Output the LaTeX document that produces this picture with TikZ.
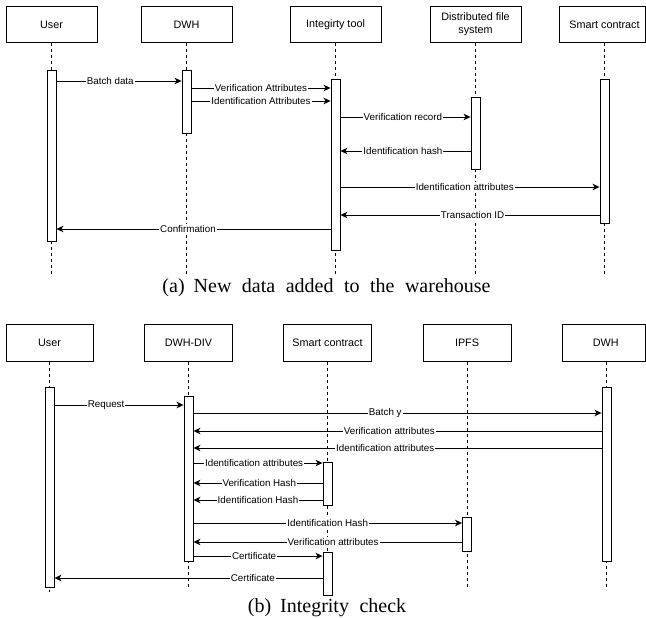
\documentclass[tikz,border=0pt]{standalone}
\usepackage{fontspec}
\setmainfont{Liberation Serif}
\newfontfamily\lsans{Liberation Sans}
\usetikzlibrary{arrows.meta}
\begin{document}
\begin{tikzpicture}[x=1bp,y=-1bp,
  hdr/.style={draw, line width=0.9bp, fill=white, minimum height=36.5bp, inner sep=0pt, align=center, font=\lsans\fontsize{10.8bp}{13bp}\selectfont},
  bar/.style={draw, line width=0.9bp, fill=white, minimum width=9bp, inner sep=0pt},
  life/.style={line width=0.9bp, dash pattern=on 3bp off 3bp},
  msg/.style={line width=0.9bp, -{Stealth[length=7bp,width=6.5bp,inset=2bp]}},
  lbl/.style={fill=white, inner sep=1bp, font=\lsans\fontsize{9.8bp}{11bp}\selectfont},
  captext/.style={anchor=base, inner sep=0pt, font=\fontsize{20bp}{24bp}\selectfont},
]
\useasboundingbox (0,0) rectangle (646,618);

% ---------------- (a) ----------------
\node[hdr, minimum width=91bp] (uh) at (51.5,24.5) {User};
\node[hdr, minimum width=91bp] (dh) at (186.5,24.5) {DWH};
\node[hdr, minimum width=91bp] (ih) at (335.5,24.5) {Integirty tool};
\node[hdr, minimum width=91bp] (fh) at (475.5,24.5) {Distributed file\\system};
\node[hdr, minimum width=86.5bp] (sh) at (602.25,24.5) {\hspace*{4.5bp}Smart contract};

\coordinate (ue) at (51.5,277);
\coordinate (de) at (186.5,277);
\coordinate (ie) at (335.5,277);
\coordinate (fe) at (475.5,277);
\coordinate (se) at (604.5,277);
\draw[life] (uh.south) -- (ue);
\draw[life] (dh.south) -- (de);
\draw[life] (ih.south) -- (ie);
\draw[life] (fh.south) -- (fe);
\draw[life] (sh.south -| se) -- (se);

\node[bar, minimum height=171bp] (ub) at (51.5,155.5) {};
\node[bar, minimum height=63bp] (db) at (186.5,101.5) {};
\node[bar, minimum height=171bp] (ib) at (335.5,164.5) {};
\node[bar, minimum height=72bp] (fb) at (475.5,133) {};
\node[bar, minimum height=144bp] (sb) at (604.5,151) {};

\draw[msg] (ub.east |- 0,81) -- node[lbl,pos=.43]{Batch data} (db.west |- 0,81);
\draw[msg] (db.east |- 0,88) -- node[lbl,pos=.5]{Verification Attributes} (ib.west |- 0,88);
\draw[msg] (db.east |- 0,101) -- node[lbl,pos=.5]{Identification Attributes} (ib.west |- 0,101);
\draw[msg] (ib.east |- 0,117) -- node[lbl,pos=.48]{Verification record} (fb.west |- 0,117);
\draw[msg] (fb.west |- 0,151) -- node[lbl,pos=.52]{Identification hash} (ib.east |- 0,151);
\draw[msg] (ib.east |- 0,187) -- node[lbl,pos=.48]{Identification attributes} (sb.west |- 0,187);
\draw[msg] (sb.west |- 0,215) -- node[lbl,pos=.49]{Transaction ID} (ib.east |- 0,215);
\draw[msg] (ib.west |- 0,229) -- node[lbl,pos=.52]{Confirmation} (ub.east |- 0,229);

\node[captext] (capa) at (326.5,292) {\spaceskip=10.5bp\relax (a)\hskip 9bp New data added to the warehouse};

% ---------------- (b) ----------------
\node[hdr, minimum width=87bp] (uh2) at (49.5,343) {User};
\node[hdr, minimum width=88bp] (dh2) at (188.5,343) {DWH-DIV};
\node[hdr, minimum width=88bp] (sh2) at (327.5,343) {Smart contract};
\node[hdr, minimum width=88bp] (ph2) at (467,343) {IPFS};
\node[hdr, minimum width=83.5bp] (wh2) at (603.75,343) {\hspace*{4bp}DWH};

\coordinate (ue2) at (49.5,592);
\coordinate (de2) at (188.5,587);
\coordinate (se2) at (327.5,595);
\coordinate (pe2) at (467,587);
\coordinate (we2) at (606.5,587);
\draw[life] (uh2.south) -- (ue2);
\draw[life] (dh2.south) -- (de2);
\draw[life] (sh2.south) -- (se2);
\draw[life] (ph2.south) -- (pe2);
\draw[life] (wh2.south -| we2) -- (we2);

\node[bar, minimum height=200bp] (ub2) at (49.5,487) {};
\node[bar, minimum height=165bp] (db2) at (188.5,478.5) {};
\node[bar, minimum height=43bp] (sba) at (327.5,483.5) {};
\node[bar, minimum height=43bp] (sbb) at (327.5,573.5) {};
\node[bar, minimum height=34bp] (pb2) at (467,534) {};
\node[bar, minimum height=174bp] (wb2) at (606.5,474) {};

\draw[msg] (ub2.east |- 0,405) -- node[lbl,pos=.4]{Request} (db2.west |- 0,405);
\draw[msg] (db2.east |- 0,413) -- node[lbl,pos=.47]{Batch y} (wb2.west |- 0,413);
\draw[msg] (wb2.west |- 0,431) -- node[lbl,pos=.52]{Verification attributes} (db2.east |- 0,431);
\draw[msg] (wb2.west |- 0,448) -- node[lbl,pos=.53]{Identification attributes} (db2.east |- 0,448);
\draw[msg] (db2.east |- 0,463) -- node[lbl,pos=.47]{Identification attributes} (sba.west |- 0,463);
\draw[msg] (sba.west |- 0,483) -- node[lbl,pos=.49]{Verification Hash} (db2.east |- 0,483);
\draw[msg] (sba.west |- 0,500) -- node[lbl,pos=.5]{Identification Hash} (db2.east |- 0,500);
\draw[msg] (db2.east |- 0,523) -- node[lbl,pos=.5]{Identification Hash} (pb2.west |- 0,523);
\draw[msg] (pb2.west |- 0,542) -- node[lbl,pos=.48]{Verification attributes} (db2.east |- 0,542);
\draw[msg] (db2.east |- 0,556) -- node[lbl,pos=.47]{Certificate} (sbb.west |- 0,556);
\draw[msg] (sbb.west |- 0,578) -- node[lbl,pos=.26]{Certificate} (ub2.east |- 0,578);

\node[captext] (capb) at (327,612) {\spaceskip=10.5bp\relax (b)\hskip 9bp Integrity check};
\end{tikzpicture}
\end{document}
